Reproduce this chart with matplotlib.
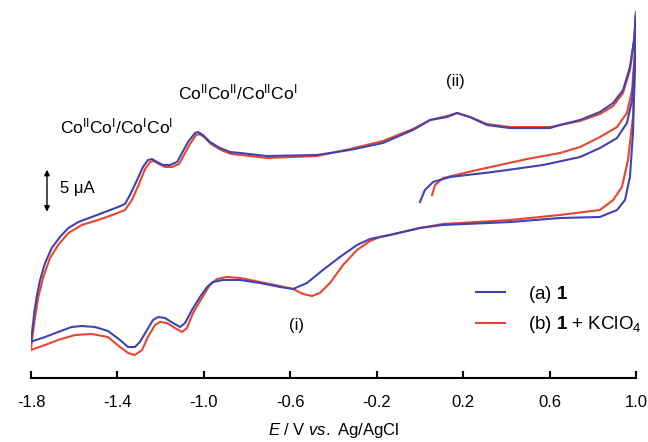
import matplotlib
matplotlib.use('Agg')
import matplotlib.pyplot as plt

plt.rcParams['font.family'] = ['Liberation Sans', 'DejaVu Sans']
plt.rcParams['mathtext.fontset'] = 'custom'
plt.rcParams['mathtext.rm'] = 'Liberation Sans'
plt.rcParams['mathtext.it'] = 'Liberation Sans:italic'
plt.rcParams['mathtext.bf'] = 'Liberation Sans:bold'

# (a) 1 : potential E (V) and current I (uA), in sweep order
# start -> +1.0 V -> back to -1.8 V -> up to +1.0 V
E_a = [0.000, 0.023, 0.061, 0.139, 0.338, 0.570, 0.741, 0.833, 0.912, 0.958, 0.982, 0.995, 1.000,
       0.995, 0.986, 0.972, 0.949, 0.912, 0.833, 0.648, 0.417, 0.107, 0.000, -0.139, -0.231,
       -0.291, -0.370, -0.449, -0.523, -0.587, -0.648, -0.740, -0.833, -0.911, -0.958, -0.985,
       -1.018, -1.055, -1.087, -1.110, -1.143, -1.180, -1.212, -1.235, -1.263, -1.296, -1.319,
       -1.351, -1.388, -1.444, -1.504, -1.565, -1.612, -1.674, -1.735, -1.800,
       -1.794, -1.785, -1.774, -1.758, -1.735, -1.704, -1.666, -1.627, -1.581, -1.519, -1.458,
       -1.397, -1.365, -1.342, -1.309, -1.282, -1.259, -1.240, -1.217, -1.189, -1.157, -1.124,
       -1.101, -1.073, -1.041, -1.027, -1.004, -0.972, -0.925, -0.879, -0.833, -0.708, -0.476,
       -0.324, -0.171, -0.032, 0.047, 0.125, 0.172, 0.232, 0.310, 0.417, 0.602, 0.648, 0.741,
       0.833, 0.894, 0.940, 0.972, 0.991, 1.000]
I_a = [6.90, 8.33, 9.29, 9.88, 10.48, 11.31, 12.26, 13.33, 14.52, 16.31, 19.05, 24.17, 29.17,
       22.98, 15.12, 9.88, 7.14, 5.95, 5.12, 5.00, 4.52, 4.17, 3.81, 2.98, 2.50,
       1.79, 0.36, -1.19, -2.74, -3.45, -3.21, -2.74, -2.38, -2.38, -2.62, -3.21,
       -4.40, -5.95, -7.50, -7.98, -7.50, -6.90, -6.79, -7.14, -8.33, -9.76, -10.36,
       -10.36, -9.52, -8.45, -7.98, -7.86, -7.98, -8.57, -9.17, -9.73,
       -8.33, -6.31, -4.40, -2.38, -0.36, 1.43, 2.74, 3.81, 4.52, 5.12, 5.71,
       6.31, 6.67, 7.74, 9.52, 11.07, 11.90, 12.02, 11.67, 11.31, 11.31, 11.67,
       12.74, 14.05, 15.12, 15.24, 14.88, 14.05, 13.33, 12.86, 12.74, 12.38, 12.50,
       13.10, 13.93, 15.48, 16.67, 17.02, 17.50, 17.02, 16.07, 15.71, 15.71, 16.07, 16.67,
       17.62, 18.69, 20.24, 22.98, 26.19, 29.17]

# (b) 1 + KClO4
E_b = [0.056, 0.070, 0.107, 0.264, 0.496, 0.648, 0.741, 0.833, 0.912, 0.958, 0.982, 0.995, 1.000,
       0.995, 0.986, 0.963, 0.935, 0.894, 0.833, 0.648, 0.417, 0.107, 0.000, -0.139, -0.185,
       -0.231, -0.291, -0.356, -0.416, -0.463, -0.500, -0.541, -0.587, -0.648, -0.740, -0.833,
       -0.893, -0.939, -0.972, -1.009, -1.050, -1.078, -1.101, -1.134, -1.171, -1.203, -1.226,
       -1.259, -1.286, -1.319, -1.351, -1.388, -1.444, -1.519, -1.596, -1.674, -1.735, -1.800,
       -1.794, -1.781, -1.766, -1.743, -1.712, -1.674, -1.627, -1.565, -1.489, -1.411, -1.365,
       -1.333, -1.300, -1.272, -1.249, -1.231, -1.208, -1.180, -1.147, -1.115, -1.092, -1.064,
       -1.036, -1.022, -0.999, -0.967, -0.921, -0.874, -0.828, -0.708, -0.476, -0.324, -0.171,
       -0.032, 0.047, 0.125, 0.172, 0.232, 0.310, 0.417, 0.602, 0.648, 0.741, 0.833, 0.894,
       0.940, 0.972, 0.991, 1.000]
I_b = [7.74, 8.93, 9.76, 10.71, 12.02, 12.74, 13.45, 14.64, 15.83, 17.50, 20.24, 25.00, 29.52,
       22.98, 17.02, 11.90, 8.69, 7.14, 5.95, 5.36, 4.76, 4.29, 3.81, 2.98, 2.74,
       2.26, 1.19, -0.60, -2.74, -3.93, -4.29, -4.05, -3.45, -3.10, -2.62, -2.14,
       -2.02, -2.26, -2.98, -4.52, -6.31, -8.10, -8.57, -8.10, -7.50, -7.38, -7.74,
       -9.17, -10.71, -11.31, -11.07, -10.36, -9.17, -8.81, -8.93, -9.52, -10.12, -10.71,
       -9.17, -6.79, -4.40, -2.02, 0.24, 1.79, 3.21, 4.17, 4.76, 5.48, 5.95,
       7.14, 9.05, 10.83, 11.67, 11.79, 11.43, 11.07, 11.07, 11.43, 12.50, 13.81,
       14.88, 15.00, 14.64, 13.81, 13.10, 12.62, 12.50, 12.14, 12.38, 13.21, 14.17,
       15.60, 16.67, 17.14, 17.50, 17.02, 16.19, 15.83, 15.83, 16.07, 16.55, 17.38, 18.33,
       19.88, 22.62, 26.19, 29.52]

xticks = [-1.8, -1.4, -1.0, -0.6, -0.2, 0.2, 0.6, 1.0]
xtick_labels = ['-1.8', '-1.4', '-1.0', '-0.6', '-0.2', '0.2', '0.6', '1.0']

blue = '#3f44b0'
red = '#e8462e'

fig = plt.figure(figsize=(6.48, 4.42), dpi=100)
ax = fig.add_axes([0.04784, 0.14480, 0.93364, 0.84389])

ax.plot(E_b, I_b, color=red, lw=1.5, solid_joinstyle='round',
        label='(b) $\\mathbf{1}$ + KClO$_4$')
ax.plot(E_a, I_a, color=blue, lw=1.5, solid_joinstyle='round',
        label='(a) $\\mathbf{1}$')

ax.set_xlim(-1.8, 1.0)
ax.set_ylim(-14.05, 30.36)

for s in ['top', 'left', 'right']:
    ax.spines[s].set_visible(False)
ax.spines['bottom'].set_linewidth(1.5)
ax.set_yticks([])
ax.set_xticks(xticks)
ax.set_xticklabels(xtick_labels)
ax.tick_params(axis='x', direction='in', length=5, width=1.5, pad=12, labelsize=12)
ax.set_xlabel('$\\it{E}$ / V $\\it{vs.}$ Ag/AgCl', fontsize=12, labelpad=8)

# annotations
ax.text(-1.402, 15.95, 'Co$^{\\rm II}$Co$^{\\rm I}$/Co$^{\\rm I}$Co$^{\\rm I}$',
        fontsize=12.5, ha='center', va='center')
ax.text(-0.842, 20.0, 'Co$^{\\rm II}$Co$^{\\rm II}$/Co$^{\\rm II}$Co$^{\\rm I}$',
        fontsize=12.5, ha='center', va='center')
ax.text(0.162, 21.31, '(ii)', fontsize=12, ha='center', va='center')
ax.text(-0.569, -7.74, '(i)', fontsize=12, ha='center', va='center')

# 5 uA scale bar
ax.annotate('', xy=(-1.726, 10.75), xytext=(-1.726, 5.75),
            arrowprops=dict(arrowstyle='<|-|>', color='black', lw=1.0,
                            mutation_scale=8, shrinkA=0, shrinkB=0))
ax.text(-1.666, 8.57, '5 μA', fontsize=12, ha='left', va='center')

handles, labels = ax.get_legend_handles_labels()
ax.legend(handles[::-1], labels[::-1], loc='upper left',
          bbox_to_anchor=(476 / 648, 1 - 284 / 442), bbox_transform=fig.transFigure,
          frameon=False, fontsize=13.5, borderpad=0, handlelength=1.55,
          handletextpad=1.2, labelspacing=0.5, borderaxespad=0)

fig.savefig('out.png', dpi=100)
